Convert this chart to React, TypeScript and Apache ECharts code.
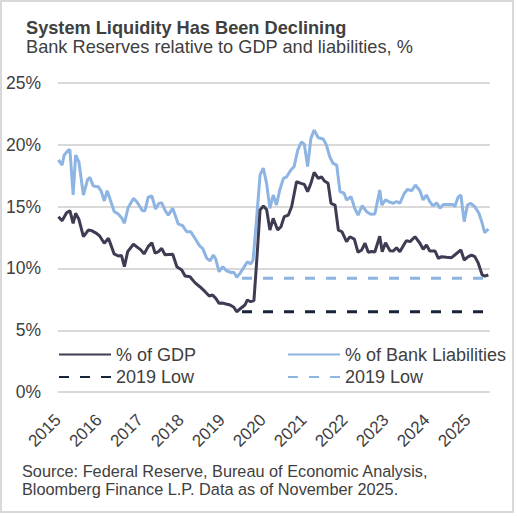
import React, { useEffect, useRef } from "react";
import * as echarts from "echarts";

const FONT = '"Liberation Sans", Arial, Helvetica, sans-serif';
const TEXT = "#404040";

const titleText = "System Liquidity Has Been Declining";
const subtitleText = "Bank Reserves relative to GDP and liabilities, %";
const sourceLines = [
  "Source: Federal Reserve, Bureau of Economic Analysis,",
  "Bloomberg Finance L.P. Data as of November 2025.",
];

const yearTicks = [2015, 2016, 2017, 2018, 2019, 2020, 2021, 2022, 2023, 2024, 2025];

// Bank reserves as % of GDP (decimal year, value)
const gdpDates = [
  2015.01, 2015.1, 2015.21, 2015.29, 2015.37, 2015.43, 2015.51, 2015.62, 2015.74, 2015.82, 2015.94,
  2016.02, 2016.13, 2016.23, 2016.29, 2016.37, 2016.47, 2016.55, 2016.62, 2016.7, 2016.84, 2016.94,
  2017.02, 2017.1, 2017.2, 2017.29, 2017.37, 2017.45, 2017.53, 2017.61, 2017.8, 2017.9,
  2018.02, 2018.1, 2018.22, 2018.34, 2018.46, 2018.59, 2018.69, 2018.77, 2018.85, 2018.93,
  2019.02, 2019.1, 2019.2, 2019.29, 2019.36, 2019.46, 2019.56, 2019.62, 2019.7, 2019.78, 2019.85, 2019.93,
  2020.01, 2020.09, 2020.17, 2020.25, 2020.36, 2020.44, 2020.52, 2020.62, 2020.7, 2020.82, 2020.93,
  2021.01, 2021.09, 2021.17, 2021.25, 2021.35, 2021.43, 2021.5, 2021.59, 2021.66, 2021.76, 2021.84, 2021.93,
  2022.04, 2022.12, 2022.23, 2022.32, 2022.41, 2022.49, 2022.57, 2022.65, 2022.73, 2022.85, 2022.91, 2022.99,
  2023.1, 2023.18, 2023.26, 2023.34, 2023.45, 2023.5, 2023.59, 2023.71, 2023.83, 2023.91, 2023.99,
  2024.07, 2024.2, 2024.28, 2024.36, 2024.48, 2024.6, 2024.68, 2024.83, 2024.91,
  2025.01, 2025.09, 2025.17, 2025.25, 2025.35, 2025.41, 2025.5,
];
const gdpValues = [
  14.18, 13.85, 14.5, 14.66, 13.64, 14.45, 13.97, 12.56, 13.1, 13.05, 12.83,
  12.6, 12.03, 12.43, 11.9, 11.17, 11.0, 11.04, 10.14, 11.35, 11.95, 11.7,
  11.5, 11.17, 11.76, 12.08, 11.22, 11.36, 11.62, 11.1, 11.14, 10.14,
  9.87, 9.38, 9.33, 8.85, 8.52, 8.12, 7.77, 7.85, 7.58, 7.18,
  7.2, 7.12, 7.04, 6.86, 6.5, 6.78, 7.04, 7.45, 7.31, 7.4, 10.68, 14.72,
  15.04, 14.75, 13.1, 14.04, 13.1, 13.37, 14.18, 14.31, 14.98, 17.0, 16.87,
  16.79, 16.2, 16.87, 17.76, 17.27, 17.4, 17.06, 16.87, 15.26, 15.12, 13.1, 12.96,
  12.16, 12.56, 12.37, 11.3, 11.49, 12.03, 11.3, 11.37, 11.33, 12.6, 11.35, 12.08,
  11.43, 11.4, 11.67, 11.35, 11.97, 12.24, 12.16, 12.56, 12.03, 11.54, 11.89,
  11.4, 11.4, 10.81, 10.95, 10.9, 10.87, 11.08, 11.49, 10.68,
  10.95, 11.08, 10.95, 10.46, 9.47, 9.38, 9.47,
];

// Bank reserves as % of bank liabilities (decimal year, value)
const bankDates = [
  2015.01, 2015.1, 2015.15, 2015.25, 2015.29, 2015.37, 2015.43, 2015.51, 2015.62, 2015.72, 2015.78, 2015.86, 2015.98,
  2016.05, 2016.13, 2016.2, 2016.29, 2016.37, 2016.47, 2016.55, 2016.62, 2016.71, 2016.84, 2016.92,
  2017.06, 2017.12, 2017.2, 2017.29, 2017.38, 2017.46, 2017.53, 2017.61, 2017.69, 2017.8, 2017.93,
  2018.04, 2018.14, 2018.24, 2018.34, 2018.46, 2018.53, 2018.63, 2018.71, 2018.79, 2018.85, 2018.93,
  2019.02, 2019.11, 2019.24, 2019.29, 2019.36, 2019.44, 2019.52, 2019.62, 2019.7, 2019.76, 2019.85, 2019.93,
  2020.01, 2020.09, 2020.17, 2020.25, 2020.33, 2020.41, 2020.5, 2020.58, 2020.68, 2020.76, 2020.85, 2020.94,
  2021.01, 2021.09, 2021.17, 2021.25, 2021.35, 2021.47, 2021.55, 2021.63, 2021.71, 2021.8, 2021.88, 2021.98,
  2022.04, 2022.15, 2022.24, 2022.32, 2022.42, 2022.53, 2022.63, 2022.73, 2022.85, 2022.9, 2022.99,
  2023.1, 2023.18, 2023.26, 2023.34, 2023.45, 2023.53, 2023.63, 2023.72, 2023.83, 2023.91, 2023.99,
  2024.07, 2024.15, 2024.24, 2024.32, 2024.4, 2024.52, 2024.64, 2024.68, 2024.76, 2024.83, 2024.91, 2024.99,
  2025.07, 2025.17, 2025.27, 2025.35, 2025.41, 2025.5,
];
const bankValues = [
  18.76, 18.35, 19.15, 19.55, 19.6, 15.93, 19.15, 18.6, 15.93, 17.15, 17.35, 16.65, 16.6,
  16.27, 15.45, 16.27, 15.4, 14.6, 14.4, 14.1, 13.65, 14.9, 15.65, 15.4,
  14.65, 14.65, 15.75, 15.85, 14.8, 15.25, 15.3, 14.7, 14.3, 14.85, 13.6,
  13.45, 12.96, 12.96, 12.43, 11.8, 11.62, 10.81, 10.62, 11.08, 10.73, 9.73,
  10.14, 9.81, 9.65, 9.7, 9.28, 9.6, 10.0, 10.54, 10.36, 10.68, 14.2, 17.55,
  18.1, 16.85, 14.85, 15.93, 15.12, 16.33, 17.27, 17.4, 17.95, 18.22, 19.56, 20.23,
  20.02, 18.22, 20.5, 21.17, 20.55, 20.45, 19.96, 19.02, 18.48, 18.35, 16.2, 16.07,
  15.53, 15.8, 14.85, 14.3, 15.06, 14.58, 14.37, 14.4, 16.33, 15.12, 15.53,
  15.34, 15.26, 15.4, 15.26, 16.07, 16.39, 16.27, 16.74, 16.27, 15.53, 15.93,
  15.4, 15.05, 15.3, 14.85, 15.17, 15.17, 15.17, 14.98, 15.74, 15.93, 13.78, 15.12,
  15.26, 14.98, 14.45, 13.64, 12.88, 13.18,
];

// 2019 lows, drawn from mid-2019 to the latest observation
const lowSpan = [2019.49, 2025.5];
const gdpLow2019 = 6.5;
const bankLow2019 = 9.2;

const SERIES_GDP = "% of GDP";
const SERIES_BANK = "% of Bank Liabilities";
const SERIES_GDP_LOW = "2019 Low (GDP)";
const SERIES_BANK_LOW = "2019 Low (Bank Liabilities)";

const C_GDP = "#3d3c52";
const C_BANK = "#8db4e2";
const C_GDP_LOW = "#17243a";

export default function App() {
  const ref = useRef<HTMLDivElement>(null);

  useEffect(() => {
    if (!ref.current) return;
    const chart = echarts.init(ref.current, undefined, { renderer: "svg" });

    const legendCommon = {
      itemWidth: 52,
      itemHeight: 14,
      padding: 0,
      itemGap: 0,
      selectedMode: false,
      itemStyle: { color: "rgba(0,0,0,0)", borderColor: "rgba(0,0,0,0)", borderWidth: 0, opacity: 0 },
      textStyle: { fontSize: 18, color: TEXT, fontFamily: FONT },
      formatter: (name: string) => name.replace(/ \(.*\)$/, ""),
    };

    const option = {
      animation: false,
      backgroundColor: "#ffffff",
      grid: { left: 58, right: 27, top: 82.7, bottom: 123.8, containLabel: false },
      xAxis: {
        type: "value",
        min: yearTicks[0],
        max: 2025.54,
        interval: 1,
        axisLine: { show: false },
        axisTick: { show: false },
        splitLine: { show: false },
        axisLabel: {
          rotate: 45,
          margin: 25,
          fontSize: 17,
          color: TEXT,
          fontFamily: FONT,
          formatter: (v: number) => {
            const r = Math.round(v);
            return Math.abs(v - r) < 1e-6 && yearTicks.includes(r) ? String(r) : "";
          },
        },
      },
      yAxis: {
        type: "value",
        min: 0,
        max: 25,
        interval: 5,
        axisLine: { show: false },
        axisTick: { show: false },
        splitLine: { lineStyle: { color: "#d9d9d9", width: 2 } },
        axisLabel: {
          formatter: "{value}%",
          margin: 17,
          fontSize: 17.5,
          color: TEXT,
          fontFamily: FONT,
        },
      },
      legend: [
        { ...legendCommon, data: [SERIES_GDP], left: 58, top: 345.5 },
        { ...legendCommon, data: [SERIES_BANK], left: 287, top: 345.5 },
        { ...legendCommon, data: [SERIES_GDP_LOW], left: 58, top: 368 },
        { ...legendCommon, data: [SERIES_BANK_LOW], left: 287, top: 368 },
      ],
      series: [
        {
          name: SERIES_BANK_LOW,
          type: "line",
          symbol: "none",
          data: lowSpan.map((d) => [d, bankLow2019]),
          lineStyle: { color: C_BANK, width: 3, type: [10, 11] },
          itemStyle: { color: C_BANK },
          z: 2,
        },
        {
          name: SERIES_GDP_LOW,
          type: "line",
          symbol: "none",
          data: lowSpan.map((d) => [d, gdpLow2019]),
          lineStyle: { color: C_GDP_LOW, width: 3, type: [10, 11] },
          itemStyle: { color: C_GDP_LOW },
          z: 2,
        },
        {
          name: SERIES_BANK,
          type: "line",
          symbol: "none",
          data: bankDates.map((d, i) => [d, bankValues[i]]),
          lineStyle: { color: C_BANK, width: 3 },
          itemStyle: { color: C_BANK },
          z: 3,
        },
        {
          name: SERIES_GDP,
          type: "line",
          symbol: "none",
          data: gdpDates.map((d, i) => [d, gdpValues[i]]),
          lineStyle: { color: C_GDP, width: 3 },
          itemStyle: { color: C_GDP },
          z: 4,
        },
      ],
      graphic: [
        {
          type: "rect",
          shape: { x: 1, y: 1, width: 512, height: 511 },
          style: { fill: "none", stroke: "#d9d9d9", lineWidth: 2 },
          silent: true,
        },
        {
          type: "text",
          style: {
            text: titleText,
            x: 26,
            y: 27.6,
            fill: TEXT,
            fontSize: 18.2,
            fontWeight: "bold",
            fontFamily: FONT,
            textVerticalAlign: "middle",
          },
        },
        {
          type: "text",
          style: {
            text: subtitleText,
            x: 26,
            y: 46.6,
            fill: TEXT,
            fontSize: 18.2,
            fontFamily: FONT,
            textVerticalAlign: "middle",
          },
        },
        ...sourceLines.map((line, i) => ({
          type: "text",
          style: {
            text: line,
            x: 22,
            y: 470.5 + i * 18.5,
            fill: TEXT,
            fontSize: 16.3,
            fontFamily: FONT,
            textVerticalAlign: "middle",
          },
        })),
      ],
    };

    chart.setOption(option as any);
    return () => chart.dispose();
  }, []);

  return (
    <div
      ref={ref}
      style={{ position: "absolute", left: 0, top: 0, width: 517, height: 516, background: "#fff" }}
    />
  );
}
